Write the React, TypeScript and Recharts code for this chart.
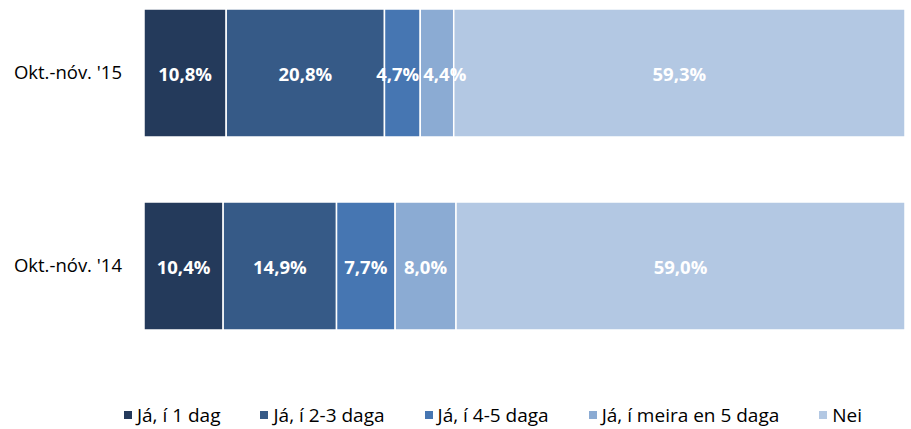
import React from "react";
import { BarChart, Bar, XAxis, YAxis, Legend, LabelList } from "recharts";

const categories = ["Okt.-nóv. '15", "Okt.-nóv. '14"];
const seriesNames = ["Já, í 1 dag", "Já, í 2-3 daga", "Já, í 4-5 daga", "Já, í meira en 5 daga", "Nei"];
const oneDay = [10.8, 10.4];
const twoThreeDays = [20.8, 14.9];
const fourFiveDays = [4.7, 7.7];
const moreThanFive = [4.4, 8.0];
const no = [59.3, 59.0];
const colors = ["#243A5B", "#365A87", "#4676B2", "#8BABD3", "#B3C8E3"];

const seriesValues = [oneDay, twoThreeDays, fourFiveDays, moreThanFive, no];
const keys = ["s0", "s1", "s2", "s3", "s4"];

const data = categories.map((c, i) => {
  const row: Record<string, string | number> = { name: c };
  keys.forEach((k, j) => {
    row[k] = seriesValues[j][i];
  });
  return row;
});

const fmt = (v: any) => `${Number(v).toFixed(1).replace(".", ",")}%`;

const FONT = "'Open Sans', 'Noto Sans', sans-serif";
const LABEL_SIZE = 18.5;
const PX_PER_UNIT = 7.61; // only used to decide whether a neighbour segment is narrow

const makeLabel = (j: number) => (props: any) => {
  const { x, y, width, height, value, index } = props;
  const text = fmt(value);
  const textW = text.length * LABEL_SIZE * 0.6;
  let anchor: "middle" | "start" | "end" = "middle";
  let tx = x + width / 2;
  if (width < textW) {
    const next = j + 1 < seriesValues.length ? seriesValues[j + 1][index] * PX_PER_UNIT : Infinity;
    const prev = j - 1 >= 0 ? seriesValues[j - 1][index] * PX_PER_UNIT : Infinity;
    if (next < textW) {
      anchor = "end";
      tx = x + width - 1;
    } else if (prev < textW) {
      anchor = "start";
      tx = x + 3;
    }
  }
  return (
    <text
      x={tx}
      y={y + height / 2}
      textAnchor={anchor}
      dominantBaseline="central"
      fill="#fff"
      style={{ fontWeight: 700, fontSize: LABEL_SIZE, fontFamily: FONT }}
    >
      {text}
    </text>
  );
};

const LegendContent = (props: any) => {
  const payload = props.payload || [];
  return (
    <div
      style={{
        display: "flex",
        justifyContent: "center",
        alignItems: "center",
        paddingLeft: 75,
        fontFamily: FONT,
        fontSize: 19,
        color: "#000",
        lineHeight: "22px",
      }}
    >
      {payload.map((p: any, i: number) => (
        <div key={i} style={{ display: "flex", alignItems: "center", marginRight: i < payload.length - 1 ? 40 : 0 }}>
          <span style={{ display: "inline-block", width: 8, height: 8, background: p.color, marginRight: 5 }} />
          <span>{p.value}</span>
        </div>
      ))}
    </div>
  );
};

export default function App() {
  return (
    <div style={{ position: "absolute", left: 0, top: 0, fontFamily: FONT }}>
      <BarChart
        width={911}
        height={429}
        data={data}
        layout="vertical"
        margin={{ top: 8, right: 6, left: 0, bottom: 77 }}
        barCategoryGap="0%"
      >
        <XAxis type="number" domain={[0, 100]} hide />
        <YAxis
          type="category"
          dataKey="name"
          width={144}
          axisLine={false}
          tickLine={false}
          tickMargin={16}
          padding={{ top: -32, bottom: -32 }}
          tick={{ fill: "#000", fontSize: 18.5, fontFamily: FONT }}
        />
        {keys.map((k, j) => (
          <Bar
            key={k}
            dataKey={k}
            name={seriesNames[j]}
            stackId="a"
            fill={colors[j]}
            stroke="#fff"
            strokeWidth={1.5}
            barSize={128}
            isAnimationActive={false}
          >
            <LabelList dataKey={k} content={makeLabel(j)} />
          </Bar>
        ))}
        <Legend
          verticalAlign="bottom"
          content={<LegendContent />}
          wrapperStyle={{ position: "absolute", top: 404, left: 0, width: 911 }}
        />
      </BarChart>
    </div>
  );
}
